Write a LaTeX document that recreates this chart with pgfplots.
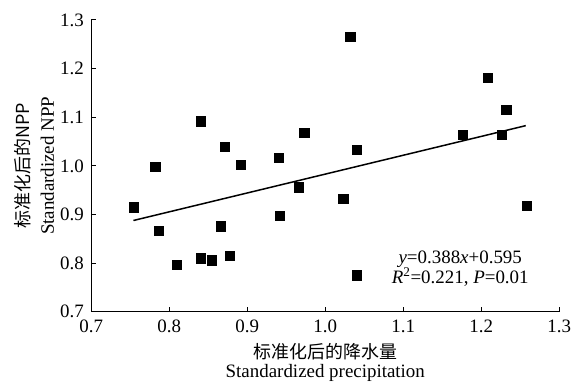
\documentclass[border=0pt]{standalone}
\usepackage{fontspec}
\setmainfont{Liberation Serif}
\newfontfamily\cjk{Noto Sans CJK SC}
\usepackage{pgfplots}
\pgfplotsset{compat=1.18}
\begin{document}
\fontsize{19}{21}\selectfont
\begin{tikzpicture}[x=1bp,y=1bp]
\begin{axis}[
  scale only axis,
  width=468bp, height=291.7bp,
  xmin=0.7, xmax=1.3, ymin=0.7, ymax=1.3,
  axis x line*=bottom, axis y line*=left,
  axis line style={line width=1.1bp},
  tick align=inside,
  major tick length=5bp,
  tick style={line width=1bp, black},
  xtick={0.7,0.8,...,1.3}, ytick={0.7,0.8,...,1.3},
  /pgf/number format/fixed,
  /pgf/number format/fixed zerofill,
  /pgf/number format/precision=1,
  /pgf/number format/assume math mode=true,
  xticklabel style={font=\fontsize{19}{21}\selectfont, yshift=-2bp},
  yticklabel style={font=\fontsize{19}{21}\selectfont, xshift=-1bp},
  clip=false,
]
\addplot[only marks, mark=square*, mark size=4.6bp, black] coordinates {
(0.754,0.915) (0.782,0.999) (0.786,0.866) (0.809,0.796) (0.840,1.092)
(0.840,0.810) (0.854,0.806) (0.866,0.876) (0.871,1.039) (0.877,0.815)
(0.892,1.002) (0.940,1.016) (0.942,0.897) (0.966,0.956) (0.973,1.068)
(1.023,0.933) (1.032,1.266) (1.040,1.033) (1.040,0.775) (1.176,1.064)
(1.208,1.182) (1.226,1.064) (1.232,1.116) (1.258,0.918)
};
\addplot[black, line width=1.5bp] coordinates {(0.754,0.8876) (1.257,1.0827)};
\node[align=center, font=\fontsize{19}{21}\selectfont, inner sep=0pt] at (axis cs:1.173,0.789)
  {\textit{y}=0.388\textit{x}+0.595\\[-1bp]\textit{R}\textsuperscript{2}=0.221, \textit{P}=0.01};
\node[font=\cjk\fontsize{18}{20}\selectfont, inner sep=0pt] at ([yshift=-40bp]rel axis cs:0.5,0) {标准化后的降水量};
\node[font=\fontsize{19}{21}\selectfont, inner sep=0pt] at ([yshift=-61bp]rel axis cs:0.5,0) {Standardized precipitation};
\node[font=\cjk\fontsize{18}{20}\selectfont, inner sep=0pt, rotate=90] at ([xshift=-69bp]rel axis cs:0,0.5) {标准化后的NPP};
\node[font=\fontsize{19}{21}\selectfont, inner sep=0pt, rotate=90] at ([xshift=-44bp]rel axis cs:0,0.5) {Standardized NPP};
\path ([xshift=-91.3bp,yshift=-70.3bp]rel axis cs:0,0) rectangle ([xshift=19.7bp,yshift=20bp]rel axis cs:1,1);
\end{axis}
\end{tikzpicture}
\end{document}
